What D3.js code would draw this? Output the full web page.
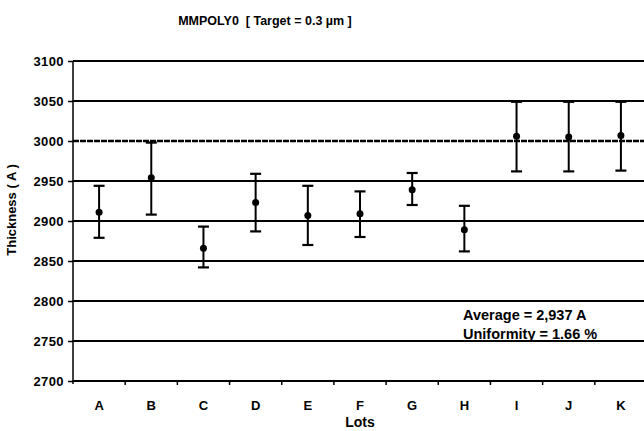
<!DOCTYPE html>
<html>
<head>
<meta charset="utf-8">
<script src="https://cdn.jsdelivr.net/npm/d3@7"></script>
<style>
  body { margin: 0; background: #fff; }
  text { font-family: Arial, "Liberation Sans", sans-serif; font-weight: bold; fill: #000; }
</style>
</head>
<body>
<script>
// Data
const lots = ['A', 'B', 'C', 'D', 'E', 'F', 'G', 'H', 'I', 'J', 'K'];
const means = [2911, 2954, 2866, 2923, 2907, 2909, 2939, 2889, 3006, 3005, 3007];
const highs = [2944, 2998, 2893, 2959, 2944, 2937, 2960, 2919, 3049, 3049, 3049];
const lows = [2879, 2908, 2842, 2887, 2870, 2880, 2920, 2862, 2962, 2962, 2963];
const yTicks = [2700, 2750, 2800, 2850, 2900, 2950, 3000, 3050, 3100];
const target = 3000;

const width = 644;
const height = 431;
const plot = { left: 73, right: 647, top: 61, bottom: 381 };

const xScale = d3.scaleBand().domain(lots).range([plot.left, plot.right]);
const yScale = d3.scaleLinear().domain([2700, 3100]).range([plot.bottom, plot.top]);

const svg = d3
    .select('body')
    .append('svg')
    .attr('width', width)
    .attr('height', height);

// Title
svg
    .append('text')
    .attr('x', 265)
    .attr('y', 25)
    .attr('text-anchor', 'middle')
    .style('font-size', '12.5px')
    .style('white-space', 'pre')
    .text('MMPOLY0  [ Target = 0.3 µm ]');

// Gridlines
svg
    .append('g')
    .selectAll('line')
    .data(yTicks.filter(d => d !== 2700))
    .enter()
    .append('line')
    .attr('x1', plot.left)
    .attr('x2', width)
    .attr('y1', d => yScale(d))
    .attr('y2', d => yScale(d))
    .attr('stroke', '#000')
    .attr('stroke-width', d => (d === target ? 2.4 : 1.8))
    .attr('stroke-dasharray', d => (d === target ? '6,1' : null));

// Y axis
const yAxis = svg
    .append('g')
    .attr('transform', `translate(${plot.left}, 0)`)
    .call(d3.axisLeft(yScale).tickValues(yTicks).tickSize(5).tickPadding(4).tickFormat(d3.format('d')));
yAxis.select('.domain').attr('stroke-width', 1.5).attr('d', `M0,${plot.top}V${plot.bottom + 3}`);
yAxis.selectAll('.tick line').attr('stroke-width', 1.5);
yAxis
    .selectAll('text')
    .style('font-size', '13px')
    .style('letter-spacing', '0.4px')
    .attr('font-family', null);

// X axis
const xAxis = svg
    .append('g')
    .attr('transform', `translate(0, ${plot.bottom})`)
    .call(d3.axisBottom(xScale).tickSize(0).tickPadding(20));
xAxis.select('.domain').attr('stroke-width', 2).attr('d', `M${plot.left},0H${width}`);
xAxis.selectAll('text').style('font-size', '13px').attr('font-family', null);

// Category boundary ticks
svg
    .append('g')
    .selectAll('line')
    .data(lots.slice(1))
    .enter()
    .append('line')
    .attr('x1', d => xScale(d))
    .attr('x2', d => xScale(d))
    .attr('y1', plot.bottom)
    .attr('y2', plot.bottom + 4)
    .attr('stroke', '#000')
    .attr('stroke-width', 1.5);

// Axis titles
svg
    .append('text')
    .attr('x', (plot.left + plot.right) / 2)
    .attr('y', 427)
    .attr('text-anchor', 'middle')
    .style('font-size', '14px')
    .text('Lots');

svg
    .append('text')
    .attr('transform', 'translate(16, 210) rotate(-90)')
    .attr('text-anchor', 'middle')
    .style('font-size', '13px')
    .style('white-space', 'pre')
    .text('Thickness ( A )');

// Error bars
const cx = d => xScale(d) + xScale.bandwidth() / 2;
const bars = svg
    .append('g')
    .selectAll('g')
    .data(lots)
    .enter()
    .append('g');

bars
    .append('line')
    .attr('x1', cx)
    .attr('x2', cx)
    .attr('y1', (d, i) => yScale(highs[i]))
    .attr('y2', (d, i) => yScale(lows[i]))
    .attr('stroke', '#000')
    .attr('stroke-width', 2);

bars
    .append('line')
    .attr('x1', d => cx(d) - 5.5)
    .attr('x2', d => cx(d) + 5.5)
    .attr('y1', (d, i) => yScale(highs[i]))
    .attr('y2', (d, i) => yScale(highs[i]))
    .attr('stroke', '#000')
    .attr('stroke-width', 2.2);

bars
    .append('line')
    .attr('x1', d => cx(d) - 5.5)
    .attr('x2', d => cx(d) + 5.5)
    .attr('y1', (d, i) => yScale(lows[i]))
    .attr('y2', (d, i) => yScale(lows[i]))
    .attr('stroke', '#000')
    .attr('stroke-width', 2.2);

bars
    .append('circle')
    .attr('cx', cx)
    .attr('cy', (d, i) => yScale(means[i]))
    .attr('r', 3.5)
    .attr('fill', '#000');

// Summary note
const note = svg
    .append('text')
    .attr('x', 463)
    .attr('y', 320)
    .style('font-size', '14.5px');
note.append('tspan').attr('x', 463).text('Average = 2,937 A');
note.append('tspan').attr('x', 463).attr('dy', 19).text('Uniformity = 1.66 %');
</script>
</body>
</html>
